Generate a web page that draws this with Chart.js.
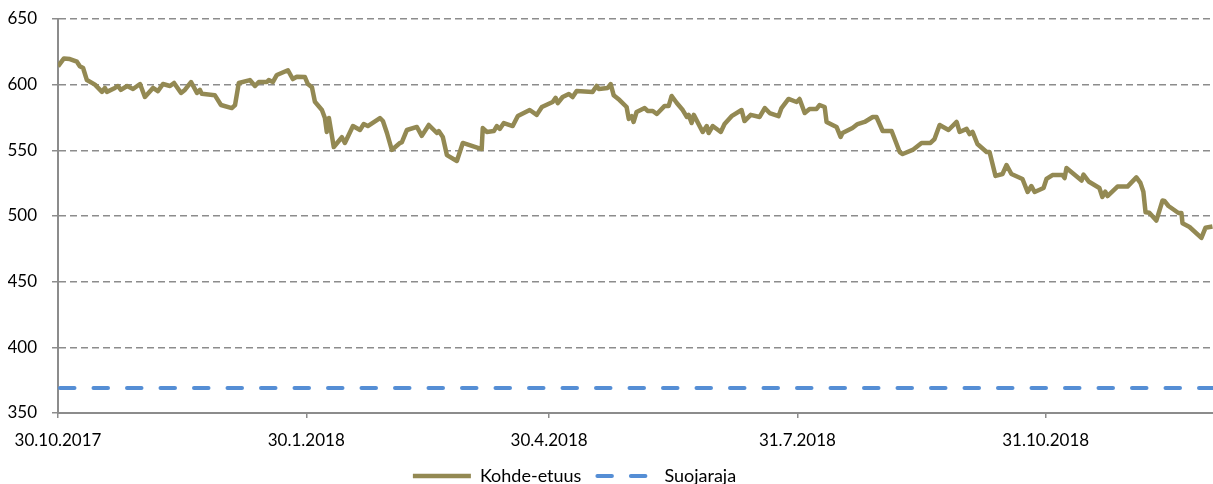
<!DOCTYPE html>
<html>
<head>
<meta charset="utf-8">
<script src="https://cdn.jsdelivr.net/npm/chart.js@4"></script>
<style>
  html, body { margin: 0; padding: 0; background: #fff; overflow: hidden; }
  #wrap { width: 1213px; height: 495px; }
</style>
</head>
<body>
<div id="wrap"><canvas id="chart"></canvas></div>
<script>
// x values are days counted from startDate
const startDate = '2017-10-30';
const axisEndDate = '2019-01-01';
const tickDates = ['2017-10-30', '2018-01-30', '2018-04-30', '2018-07-31', '2018-10-31'];
const tickLabels = ['30.10.2017', '30.1.2018', '30.4.2018', '31.7.2018', '31.10.2018'];

const kohdeDays = [
  0, 2.2, 4.4, 7.0, 8.1, 9.3, 10.7, 13.7, 16.3, 17.4, 18.1, 21.1, 22.2, 23.3, 25.6, 27.8,
  30.4, 32.2, 35.2, 37.0, 38.9, 41.5, 43.0, 45.6, 47.0, 49.3, 51.5, 52.6, 53.3, 58.1, 60.4,
  64.4, 65.6, 67.0, 71.1, 73.0, 74.4, 77.4, 78.1, 79.6, 81.1, 85.2, 87.0, 88.5, 91.5, 92.6,
  94.1, 95.2, 97.8, 98.9, 99.6, 100.4, 102.2, 105.2, 106.3, 109.3, 111.9, 113.3, 114.8,
  119.3, 120.4, 121.9, 123.7, 126.7, 127.4, 129.3, 133.0, 134.8, 137.4, 140.4, 141.1, 142.6,
  144.1, 147.8, 150.0, 157.0, 157.4, 158.9, 161.5, 162.6, 163.7, 165.2, 168.5, 170.4, 174.8,
  177.4, 179.3, 183.3, 184.4, 185.2, 187.0, 189.3, 190.7, 192.2, 198.1, 199.6, 200.4, 203.7,
  204.8, 205.9, 208.1, 210.7, 211.5, 212.6, 213.3, 214.4, 217.4, 218.5, 220.4, 221.9, 224.8,
  226.3, 227.4, 229.3, 231.5, 233.0, 233.7, 234.8, 235.6, 238.9, 240.4, 241.1, 242.6, 245.6,
  247.0, 249.6, 253.3, 254.4, 256.7, 260.0, 261.9, 263.7, 267.0, 268.1, 270.7, 273.7, 274.8,
  276.7, 278.5, 281.1, 282.2, 284.1, 284.8, 287.0, 288.5, 290.0, 290.7, 294.4, 296.3, 298.9,
  301.9, 303.3, 305.6, 308.9, 311.9, 313.0, 316.7, 320.0, 323.3, 324.8, 326.7, 330.0, 333.0,
  334.1, 336.7, 337.8, 338.9, 340.7, 344.1, 345.2, 347.4, 350.0, 351.5, 353.3, 357.4, 359.3,
  360.7, 361.9, 365.2, 366.3, 368.5, 372.2, 373.0, 373.7, 379.3, 380.0, 381.9, 385.9, 387.0,
  388.1, 388.9, 392.6, 396.3, 399.6, 401.1, 402.2, 403.0, 404.4, 407.0, 409.3, 410.0, 411.5,
  415.2, 416.3, 416.7, 419.3, 423.7, 425.2, 427.8
];
const kohdeValues = [
  614, 620, 619.5, 617.5, 614, 612.7, 603.5, 600, 594.5, 597.5, 594.5, 597.5, 599, 596, 599, 596.7,
  600.5, 590.6, 597.5, 595, 600.5, 599, 601.3, 593.7, 596, 602, 593.7, 596, 593, 592, 584.5,
  582.2, 584.5, 601.3, 603.5, 599, 602, 602, 603.5, 602, 607.4, 611, 604.3, 606, 605.8, 600.5,
  598, 587, 580.7, 574.6, 564, 574.6, 552.5, 560, 555.6, 568.5, 565.5, 570, 568.5,
  574.6, 572.3, 563.2, 550.3, 555.6, 556, 565.5, 567.8, 561, 569.3, 563.2, 564.7, 560.2,
  546.4, 541.9, 555.6, 551, 567, 564, 564.7, 568.5, 566.3, 570.8, 568.5, 576.1, 580.7,
  577, 583, 586.8, 590, 586, 590.6, 592.9, 590.6, 595.2, 594.5, 599, 596.7, 597.5,
  600.5, 592, 588.3, 583, 573.9, 576, 571.6, 579.2, 582.2, 580, 580, 577.7, 583.8,
  583.8, 591.4, 586, 580.7, 575.4, 577, 570.8, 577, 564, 568.5, 563.2, 568.5, 564,
  570, 576, 580.7, 572.3, 577, 575.4, 582.2, 578.4, 576, 582.2, 589.1, 586.8, 589.1,
  578.4, 581.5, 581.5, 584.5, 583, 571.6, 569.3, 567.8, 560.2, 563.2, 567, 570, 571.6,
  575.4, 575.4, 564.7, 564.7, 548.7, 547.2, 550.3, 555.6, 555.6, 558.6, 569.3, 565.5, 571.6,
  564, 566.3, 562.4, 564, 554.8, 548.7, 548.7, 530.5, 532, 538.8, 532, 528.2, 518.3,
  522.8, 518.3, 521.3, 528.2, 531.2, 531.2, 528.9, 536.5, 527, 531.5, 526.3, 521.3, 514.5,
  518.5, 515.2, 522.4, 522.4, 529.4, 525.2, 518.5, 502.8, 502.5, 496.5, 511.8, 511.5, 507.6,
  502.3, 502.3, 494.4, 491.6, 483.3, 491, 492
];
const suojarajaLevel = 369;

const yMin = 350, yMax = 650, yStep = 50;

function dayOffset(d) {
  return (Date.parse(d) - Date.parse(startDate)) / 86400000;
}
const endDay = dayOffset(axisEndDate);
const tickDays = tickDates.map(dayOffset);

const gridGrey = '#8c8c8c';
const font = { family: 'Lato', size: 17 };
const legendFont = { family: 'Lato', size: 18 };

// legend sits a bit left of the canvas centre in the original
const legendShift = {
  id: 'legendShift',
  afterLayout(chart) {
    if (chart.legend) chart.legend.right -= 72;
  }
};

new Chart(document.getElementById('chart'), {
  type: 'line',
  data: {
    datasets: [
      {
        label: 'Kohde-etuus',
        data: kohdeDays.map((d, i) => ({ x: d, y: kohdeValues[i] })),
        borderColor: '#938953',
        backgroundColor: '#938953',
        borderWidth: 4.5,
        borderJoinStyle: 'round',
        borderCapStyle: 'butt',
        pointRadius: 0,
        tension: 0
      },
      {
        label: 'Suojaraja',
        data: [{ x: 0, y: suojarajaLevel }, { x: endDay, y: suojarajaLevel }],
        borderColor: '#558ed5',
        backgroundColor: '#558ed5',
        borderWidth: 4,
        borderDash: [14.5, 19],
        borderDashOffset: -2,
        borderCapStyle: 'round',
        pointRadius: 0
      }
    ]
  },
  options: {
    responsive: true,
    maintainAspectRatio: false,
    animation: false,
    layout: { padding: { top: 19, left: 8, right: 0, bottom: 0 } },
    scales: {
      x: {
        type: 'linear',
        min: 0,
        max: endDay,
        afterBuildTicks: scale => { scale.ticks = tickDays.map(v => ({ value: v })); },
        afterFit: scale => {
          scale.height = 38;
          scale.paddingLeft = 0;
          scale.paddingRight = 0;
        },
        ticks: {
          autoSkip: false,
          maxRotation: 0,
          padding: 12,
          color: '#000',
          font: font,
          callback: (v, i) => tickLabels[i]
        },
        grid: { drawOnChartArea: false, tickLength: 5, color: gridGrey, lineWidth: 1.5 },
        border: { display: true, color: gridGrey, width: 2 }
      },
      y: {
        min: yMin,
        max: yMax,
        afterFit: scale => {
          scale.width = 50;
          scale.paddingTop = 0;
          scale.paddingBottom = 0;
        },
        ticks: { stepSize: yStep, padding: 15, color: '#000', font: font },
        grid: { color: gridGrey, lineWidth: 1.5, tickLength: 6, tickBorderDash: [7, 4] },
        border: { display: true, color: gridGrey, width: 2, dash: [7, 4] }
      }
    },
    plugins: {
      tooltip: { enabled: false },
      legend: {
        position: 'bottom',
        labels: {
          usePointStyle: true,
          pointStyle: 'line',
          pointStyleWidth: 58,
          padding: 16,
          color: '#000',
          font: legendFont,
          // point-style items lose the dataset dash, so copy it back
          generateLabels: chart => Chart.defaults.plugins.legend.labels.generateLabels(chart).map(item => {
            const ds = chart.data.datasets[item.datasetIndex];
            return Object.assign(item, {
              lineDash: ds.borderDash || [],
              lineDashOffset: 0,
              lineCap: ds.borderCapStyle || 'butt',
              lineWidth: ds.borderWidth,
              strokeStyle: ds.borderColor
            });
          })
        }
      }
    }
  },
  plugins: [legendShift]
});
</script>
</body>
</html>
